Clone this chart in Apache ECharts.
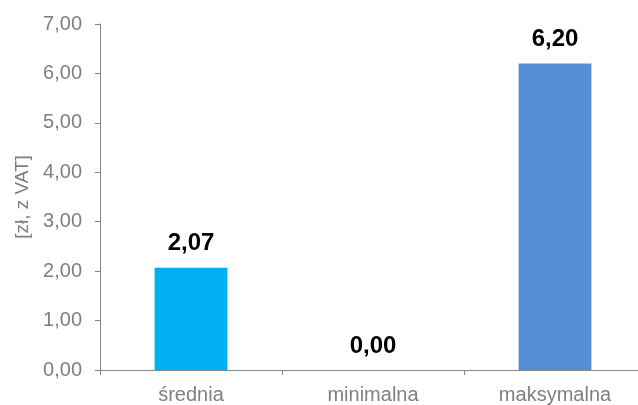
<!DOCTYPE html>
<html>
<head>
<meta charset="utf-8">
<script src="https://cdn.jsdelivr.net/npm/echarts@6/dist/echarts.min.js"></script>
<style>
html,body{margin:0;padding:0;background:#fff;}
#chart{width:638px;height:405px;}
</style>
</head>
<body>
<div id="chart"></div>
<script>
const categories = ['średnia', 'minimalna', 'maksymalna'];
const values = [2.07, 0.00, 6.20];
const barColors = ['#00B0F0', '#558ED5', '#558ED5'];
const yTicks = { min: 0, max: 7, interval: 1 };
const yAxisName = '[zł, z VAT]';

const fmt = v => Number(v).toFixed(2).replace('.', ',');
const font = '"Liberation Sans", Arial, sans-serif';

const chart = echarts.init(document.getElementById('chart'), null, { renderer: 'canvas' });
chart.setOption({
  animation: false,
  backgroundColor: '#ffffff',
  grid: { left: 100, right: -8, top: 24, bottom: 35, containLabel: false, outerBoundsMode: 'none' },
  xAxis: {
    type: 'category',
    data: categories,
    axisLine: { lineStyle: { color: '#868686', width: 1 } },
    axisTick: { show: true, length: 5, lineStyle: { color: '#868686' } },
    axisLabel: { color: '#7f7f7f', fontSize: 20, fontFamily: font, margin: 15, interval: 0 }
  },
  yAxis: {
    type: 'value',
    min: yTicks.min, max: yTicks.max, interval: yTicks.interval,
    name: yAxisName,
    nameLocation: 'middle',
    nameGap: 68,
    nameRotate: 90,
    nameTextStyle: { color: '#7f7f7f', fontSize: 19, fontFamily: font },
    axisLine: { show: true, lineStyle: { color: '#868686', width: 1 } },
    axisTick: { show: true, length: 5, lineStyle: { color: '#868686' } },
    splitLine: { show: false },
    axisLabel: { color: '#7f7f7f', fontSize: 20, fontFamily: font, margin: 18, formatter: fmt }
  },
  series: [{
    type: 'bar',
    barWidth: '40%',
    data: values.map((v, i) => ({ value: v, itemStyle: { color: barColors[i] } })),
    label: {
      show: true,
      position: 'top',
      distance: 12,
      color: '#000',
      fontSize: 24,
      fontWeight: 'bold',
      fontFamily: font,
      formatter: p => fmt(p.value)
    }
  }]
});
</script>
</body>
</html>
